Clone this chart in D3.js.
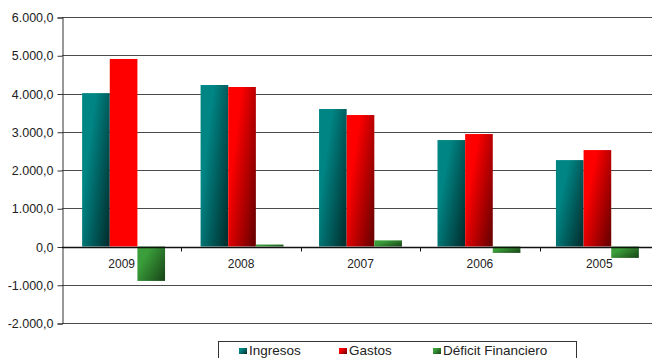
<!DOCTYPE html>
<html>
<head>
<meta charset="utf-8">
<script src="https://cdn.jsdelivr.net/npm/d3@7/dist/d3.min.js"></script>
<style>
  html, body { margin: 0; padding: 0; background: #fff; }
  svg { display: block; }
  text { font-family: "Liberation Sans", Arial, sans-serif; fill: #222; }
</style>
</head>
<body>
<svg id="chart" width="652" height="358"></svg>
<script>
// Budget figures per year
const years = ["2009", "2008", "2007", "2006", "2005"];
const ingresos = [4010, 4222, 3594, 2783, 2259];
const gastos = [4903, 4170, 3437, 2940, 2521];
const deficit = [-900, 52, 160, -167, -298];
const seriesNames = ["Ingresos", "Gastos", "Déficit Financiero"];
const yTicks = [-2000, -1000, 0, 1000, 2000, 3000, 4000, 5000, 6000];

const series = [ingresos, gastos, deficit];
const colors = [
  { id: "gIng", light: "#008585", dark: "#013232", flat: "#008080" },
  { id: "gGas", light: "#ff0000", dark: "#6e0000", flat: "#ff0000" },
  { id: "gDef", light: "#3a9e3a", dark: "#1a4a1a", flat: "#339933" }
];

const svg = d3.select("#chart");
const plot = { left: 62, right: 659, top: 17, bottom: 323 };

const defs = svg.append("defs");
colors.forEach(c => {
  const g = defs.append("linearGradient").attr("id", c.id)
    .attr("x1", "0").attr("y1", "0.15").attr("x2", "1").attr("y2", "0.85");
  g.append("stop").attr("offset", "0%").attr("stop-color", c.light);
  g.append("stop").attr("offset", "25%").attr("stop-color", c.light);
  g.append("stop").attr("offset", "100%").attr("stop-color", c.dark);
});

const y = d3.scaleLinear().domain([-2000, 6000]).range([plot.bottom, plot.top]);
const x0 = d3.scaleBand().domain(years).range([plot.left, plot.right]).paddingInner(0.3).paddingOuter(0.17);
const x1 = d3.scaleBand().domain(d3.range(3)).range([0, x0.bandwidth()]);
const xGroup = d3.scaleBand().domain(years).range([plot.left, plot.right]);

const fmt = v => {
  const s = d3.format(",.1f")(v);
  return s.replace(/,/g, "#").replace(/\./g, ",").replace(/#/g, ".").replace("−", "-");
};

// Horizontal gridlines
svg.append("g").selectAll("line").data(yTicks).join("line")
  .attr("x1", plot.left).attr("x2", plot.right)
  .attr("y1", d => Math.round(y(d)) + 0.5).attr("y2", d => Math.round(y(d)) + 0.5)
  .attr("stroke", "#4a4a4a").attr("stroke-width", 1.2);

// Y axis
const yAxis = d3.axisLeft(y).tickValues(yTicks).tickSize(5).tickPadding(4).tickFormat(fmt);
const ya = svg.append("g").attr("transform", `translate(${plot.left + 0.5},0.5)`).call(yAxis);
ya.select(".domain").attr("stroke", "#333");
ya.selectAll(".tick line").attr("stroke", "#333");
ya.selectAll("text").attr("font-size", 12.5).attr("fill", "#222")
  .attr("font-family", "'Liberation Sans', Arial, sans-serif");

// Bars (the 2009 spending bar is drawn in flat colour)
const groups = svg.append("g").selectAll("g").data(years).join("g")
  .attr("transform", d => `translate(${x0(d)},0)`);
groups.selectAll("rect").data((d, i) => series.map((s, k) => ({ k, v: s[i], year: d }))).join("rect")
  .attr("x", d => x1(d.k))
  .attr("width", x1.bandwidth())
  .attr("y", d => y(Math.max(0, d.v)))
  .attr("height", d => Math.abs(y(d.v) - y(0)))
  .attr("fill", d => (d.year === "2009" && d.k === 1) ? colors[1].flat : `url(#${colors[d.k].id})`);

// Zero line with category separators
const zy = Math.round(y(0)) + 0.5;
svg.append("line").attr("x1", plot.left).attr("x2", plot.right)
  .attr("y1", zy).attr("y2", zy).attr("stroke", "#111").attr("stroke-width", 1.3);
svg.append("g").selectAll("line").data(years.slice(1)).join("line")
  .attr("x1", d => Math.round(xGroup(d)) + 0.5).attr("x2", d => Math.round(xGroup(d)) + 0.5)
  .attr("y1", zy).attr("y2", zy + 4).attr("stroke", "#111");

// Category labels
svg.append("g").selectAll("text").data(years).join("text")
  .attr("x", d => xGroup(d) + xGroup.bandwidth() / 2)
  .attr("y", zy + 20)
  .attr("text-anchor", "middle").attr("font-size", 12).text(d => d);

// Legend
const lg = svg.append("g");
lg.append("rect").attr("x", 218.5).attr("y", 341.5).attr("width", 358).attr("height", 30)
  .attr("fill", "#fff").attr("stroke", "#333");
const legendX = [239, 339, 433];
seriesNames.forEach((name, i) => {
  lg.append("rect").attr("x", legendX[i]).attr("y", 348).attr("width", 8).attr("height", 6)
    .attr("fill", `url(#${colors[i].id})`);
  lg.append("text").attr("x", legendX[i] + 10).attr("y", 355).attr("font-size", 13.5)
    .attr("fill", "#111").text(name);
});
</script>
</body>
</html>
